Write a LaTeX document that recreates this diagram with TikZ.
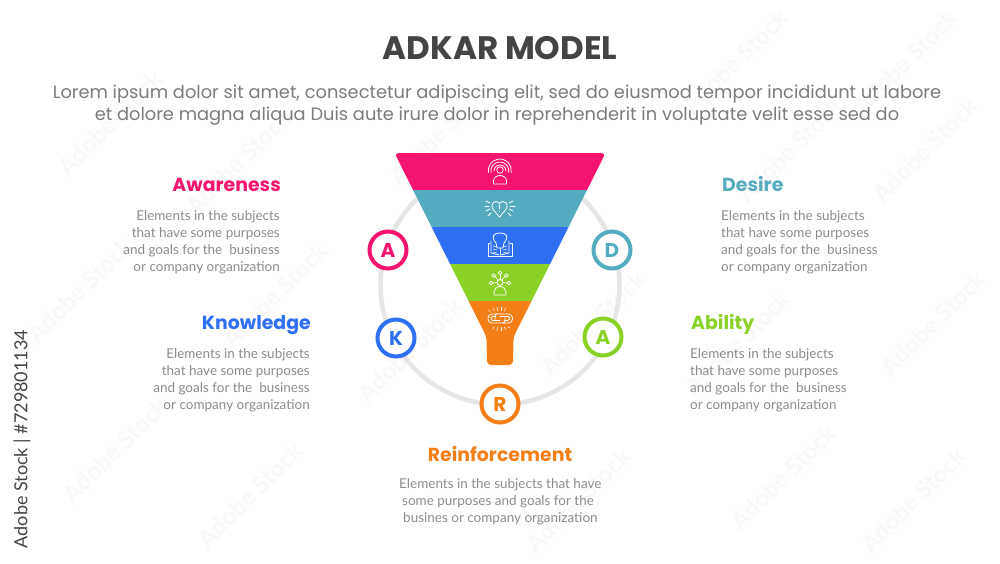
\documentclass[tikz,border=0pt]{standalone}
\usepackage{fontspec}
\setmainfont{Lato}
\newfontfamily\popf{Poppins}
\definecolor{cpink}{HTML}{F5146F}
\definecolor{cteal}{HTML}{55ACC0}
\definecolor{cblue}{HTML}{2F6FF2}
\definecolor{cgreen}{HTML}{8AD126}
\definecolor{corange}{HTML}{F57F17}
\definecolor{cbody}{HTML}{8C8C8C}
\definecolor{clead}{HTML}{7C7C7C}
\definecolor{ctitle}{HTML}{444444}
\definecolor{cring}{HTML}{E6E6E6}
\definecolor{cwm}{HTML}{F9F9F9}
\tikzset{
  titletext/.style={font=\popf\bfseries\fontsize{32.5}{38}\selectfont,text=ctitle,inner sep=0pt},
  leadtext/.style={font=\popf\fontsize{17.82}{22.3}\selectfont,text=clead,align=center,inner sep=0pt},
  headtext/.style={font=\popf\bfseries\fontsize{18.9}{22}\selectfont,inner sep=0pt},
  bodytext/.style={font=\fontsize{13.5}{17}\selectfont,text=cbody,inner sep=0pt},
  letterbadge/.style={circle,draw=#1,line width=4pt,fill=white,minimum size=37pt,inner sep=0pt,text=#1,font=\popf\bfseries\fontsize{20}{22}\selectfont},
  iconline/.style={draw=white,line width=0.8pt,line cap=round,line join=round},
  wmark/.style={font=\bfseries\fontsize{24}{28}\selectfont,text=cwm,rotate=45,inner sep=0pt},
}
\begin{document}
\begin{tikzpicture}[x=1pt,y=-1pt]
\useasboundingbox (0,0) rectangle (1000,563);
\fill[white] (0,0) rectangle (1000,563);
% faint repeated marks
\foreach \wx/\wy [count=\wi] in {783/477,913/500,933/323,737/343,593/323,578/500,110/123,238/162,441/132,275/295,735/62,905/62,790/150,925/150,410/350,115/450,250/495,80/290}
  \node[wmark] (wm\wi) at (\wx,\wy) {Adobe Stock};
% side label
\node[font=\fontsize{18}{22}\selectfont,text=ctitle,rotate=90,inner sep=0pt] (side) at (22,439) {Adobe Stock | \#729801134};
% title
\node[titletext] (title) at (500,48) {ADKAR MODEL};
\node[leadtext] (lead) at (497,105) {Lorem ipsum dolor sit amet, consectetur adipiscing elit, sed do eiusmod tempor incididunt ut labore\\et dolore magna aliqua Duis aute irure dolor in reprehenderit in voluptate velit esse sed do};
% ring
\node[circle,draw=cring,line width=4.5pt,minimum size=239pt,inner sep=0pt] (ring) at (500,285) {};
% funnel
\begin{scope}
\clip[rounded corners=4pt] (394.5,153) -- (605.5,153) -- (513.5,337) -- (513,365) -- (487,365) -- (486.5,337) -- cycle;
\fill[cpink] (390,150) rectangle (610,190);
\fill[cteal] (390,190) rectangle (610,227);
\fill[cblue] (390,227) rectangle (610,264);
\fill[cgreen] (390,264) rectangle (610,300.5);
\fill[corange] (390,300.5) rectangle (610,370);
\end{scope}
% icon 1
\draw[iconline] (500,170) circle (3.2);
\draw[iconline] (494,171) arc (180:360:6);
\draw[iconline] (491,172.5) arc (170:370:9);
\draw[iconline] (488.5,172.5) arc (170:370:11.5);
\draw[iconline] (493.5,184) -- (493.5,181) arc (180:360:6.5 and 5.5) -- (506.5,184) -- cycle;
% icon 2
\draw[iconline] (499.5,217) -- (493.5,210) .. controls (489,204) and (495,198.5) .. (499.5,203.5) .. controls (504,198.5) and (510,204) .. (505.5,210) -- cycle;
\draw[iconline] (499.5,205) -- (499.5,209);
\draw[iconline] (499.5,211.5) -- (499.5,211.7);
\foreach \a/\b/\c/\d in {486/201/490/203,485/206/489/206,486/211/490/209,488/216/491/213,513/201/509/203,515/206/510/206,513/211/509/209,511/216/508/213}
  \draw[iconline] (\a,\b) -- (\c,\d);
% icon 3
\draw[iconline] (496,243) .. controls (490,236) and (494,233) .. (500,233) .. controls (506,233) and (510,236) .. (504,243) -- (503,248) -- (497,248) -- cycle;
\draw[iconline] (500,248) -- (500,255);
\draw[iconline] (490,243) -- (488,243) -- (488,256.5) -- (512,256.5) -- (512,243) -- (510,243);
\draw[iconline] (491,241) -- (491,253) -- (499,255);
\draw[iconline] (509,241) -- (509,253) -- (501,255);
\foreach \ya in {246,249,252}{
  \draw[iconline,line width=0.5pt] (493,\ya) -- (497,\ya+1);
  \draw[iconline,line width=0.5pt] (507,\ya) -- (503,\ya+1);
}
% icon 4
\draw[iconline] (500,282.5) circle (3);
\draw[iconline] (494,295) -- (494,292) arc (180:360:6 and 5.5) -- (506,295) -- cycle;
\foreach \a/\b/\c/\d in {497/282.5/493/283,498/280/495/276.5,500/279.5/500/275,502/280/505/276.5,503/282.5/507/283}
  \draw[iconline] (\a,\b) -- (\c,\d);
\foreach \a/\b in {491/283,493.5/275.5,500/273,506.5/275.5,509/283}
  \draw[iconline] (\a,\b) circle (1.9);
% icon 5
\draw[iconline,rounded corners=4pt] (497,314) -- (488,314) -- (488,323) -- (503,323);
\draw[iconline,rounded corners=1.5pt] (496,316.5) -- (491,316.5) -- (491,320.5) -- (500,320.5);
\draw[iconline,rounded corners=4pt] (503,323) -- (512.5,323) -- (512.5,314) -- (497,314);
\draw[iconline,rounded corners=1.5pt] (504,320.5) -- (509.5,320.5) -- (509.5,316.5) -- (500,316.5);
\draw[iconline,rounded corners=2pt] (497,314) -- (495,314) -- (495,320.5);
\draw[iconline,rounded corners=2pt] (503,323) -- (505,323) -- (505,316.5);
\foreach \a/\b/\c/\d in {494/311/493.5/308.5,497.5/310.5/497/307,501/310.5/501/307,504.5/311/505.5/308,490/311.5/488.5/310,494/327/493/329,497.5/327.5/497/331,501/327.5/501/331,504.5/327/505.5/329.5,508/327/510/328}
  \draw[iconline,line width=0.6pt] (\a,\b) -- (\c,\d);
% badges
\node[letterbadge=cpink] (ba) at (388,250) {A};
\node[letterbadge=cteal] (bd) at (612,250) {D};
\node[letterbadge=cblue] (bk) at (396,338) {K};
\node[letterbadge=cgreen] (bb) at (603,337) {A};
\node[letterbadge=corange] (br) at (500,404) {R};
% Awareness
\node[headtext,text=cpink,anchor=base east] (h1) at (281,191) {Awareness};
\node[bodytext,align=right,anchor=north east] (t1) at (280,210) {Elements in the subjects\\that have some purposes\\and goals for the~~business\\or company organization};
% Desire
\node[headtext,text=cteal,anchor=base west] (h2) at (722,191) {Desire};
\node[bodytext,align=left,anchor=north west] (t2) at (721,210) {Elements in the subjects\\that have some purposes\\and goals for the~~business\\or company organization};
% Knowledge
\node[headtext,text=cblue,anchor=base east] (h3) at (311,329) {Knowledge};
\node[bodytext,align=right,anchor=north east] (t3) at (310,348) {Elements in the subjects\\that have some purposes\\and goals for the~~business\\or company organization};
% Ability
\node[headtext,text=cgreen,anchor=base west] (h4) at (691,329) {Ability};
\node[bodytext,align=left,anchor=north west] (t4) at (690,348) {Elements in the subjects\\that have some purposes\\and goals for the~~business\\or company organization};
% Reinforcement
\node[headtext,text=corange,anchor=base] (h5) at (500,461) {Reinforcement};
\node[bodytext,align=left,anchor=north west] (t5) at (399,478) {Elements in the subjects that have\\\hspace*{3pt}some purposes and goals for the\\\hspace*{4pt}busines or company organization};
\end{tikzpicture}
\end{document}
